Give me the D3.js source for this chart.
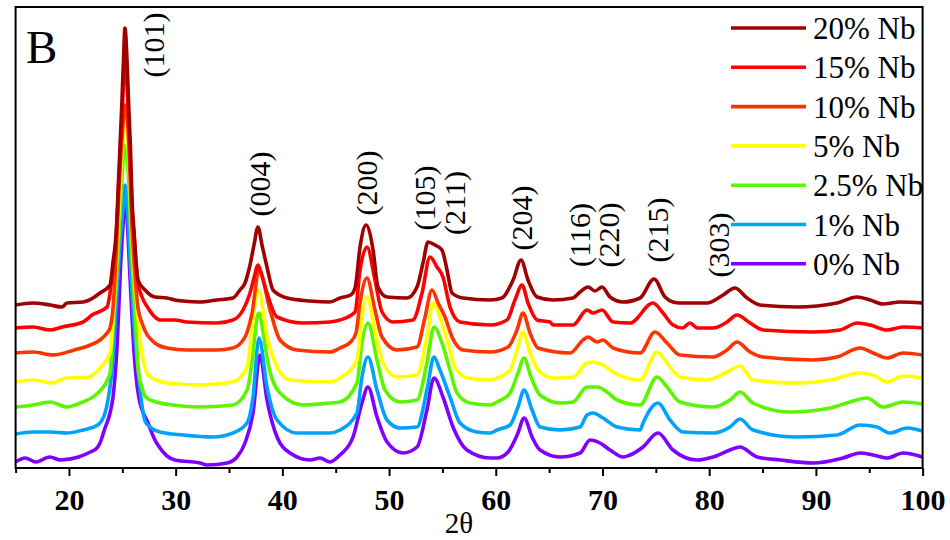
<!DOCTYPE html>
<html>
<head>
<meta charset="utf-8">
<script src="https://cdn.jsdelivr.net/npm/d3@7"></script>
<style>
  body { margin: 0; background: #fff; }
  svg { display: block; }
</style>
</head>
<body>
<svg id="chart" width="950" height="540"></svg>
<script>
// sample names and colours, bottom curve first
const sampleNames = ['0% Nb', '1% Nb', '2.5% Nb', '5% Nb', '10% Nb', '15% Nb', '20% Nb'];
const sampleColors = ['#7f00ff', '#00a2ff', '#5cf500', '#ffff00', '#ff3300', '#ff0000', '#a00000'];

// diffraction patterns [2theta, intensity a.u. incl. stacking offset]
const nb0 = [[15.0,6],[15.9,10],[16.9,6],[18.2,11],[19.2,8],[20.9,11],[22.0,16],[22.63,20],[22.91,25],[23.38,40],[23.85,55],[24.13,71],[24.55,130],[24.83,200],[25.11,250],[25.25,270],[25.44,250],[25.77,180],[26.14,110],[26.56,70],[27.41,45],[28.06,28],[28.53,20],[29.19,12],[29.94,8],[32.28,5],[32.94,3],[34.81,5],[35.75,11],[36.5,25],[37.25,55],[37.9,113],[38.56,68],[39.5,31],[40.72,15],[42.59,8],[43.53,10],[44.46,6],[45.4,13],[46.62,31],[47.46,65],[48.02,81],[48.87,51],[49.81,26],[51.31,15],[52.62,21],[53.55,58],[54.21,90],[55.05,71],[55.99,41],[57.3,18],[59.46,10],[60.12,10],[61.15,16],[62.08,35],[62.65,50],[63.4,31],[64.15,18],[66.02,11],[67.9,15],[68.83,28],[69.77,25],[70.71,18],[71.93,11],[72.58,13],[73.8,21],[75.2,35],[76.61,18],[78.86,8],[80.36,11],[81.95,18],[82.89,21],[84.49,11],[86.64,8],[89.73,5],[92.54,10],[94.14,15],[95.36,13],[96.67,10],[98.17,15],[100,11]];
const nb1 = [[15.0,34],[16.63,36],[18.22,36],[19.82,35],[21.32,38],[22.7,43],[23.38,55],[23.66,68],[24.13,110],[24.41,160],[24.83,230],[25.11,265],[25.25,283],[25.44,265],[25.77,200],[26.05,150],[26.56,90],[26.85,62],[27.13,47],[27.6,41],[28.53,36],[30.69,33],[33.5,31],[35.37,35],[36.69,45],[37.25,71],[37.81,130],[38.56,81],[39.5,48],[41.37,35],[44.46,35],[45.4,38],[46.99,55],[47.46,91],[48.02,111],[48.87,78],[49.81,48],[51.02,40],[52.62,41],[53.55,78],[54.21,111],[54.77,98],[55.71,71],[56.65,45],[58.24,36],[59.46,35],[60.12,38],[61.34,43],[62.08,61],[62.65,78],[63.4,58],[64.15,41],[66.02,38],[67.9,41],[68.55,53],[69.11,55],[70.05,50],[71.36,41],[73.52,38],[73.8,45],[75.2,65],[76.33,48],[77.55,36],[80.36,35],[81.95,41],[82.89,49],[84.11,38],[88.24,31],[91.98,33],[94.14,43],[95.73,41],[96.95,35],[98.54,40],[100,37]];
const nb25 = [[15.0,61],[16.63,63],[18.22,66],[19.8,61],[21.3,66],[22.5,73],[23.6,88],[23.85,95],[24.13,138],[24.55,205],[24.97,290],[25.25,323],[25.58,290],[25.91,205],[26.05,180],[26.28,138],[26.47,100],[26.85,80],[27.13,72],[27.6,68],[29.75,63],[32.28,61],[35.37,63],[36.69,78],[37.2,110],[37.62,150],[37.81,155],[38.2,135],[38.65,105],[39.78,75],[41.93,63],[44.46,65],[45.4,66],[46.99,85],[47.46,125],[48.02,145],[48.87,108],[49.62,78],[51.02,66],[52.62,68],[53.55,105],[54.21,141],[54.96,125],[55.71,98],[56.37,75],[57.59,65],[59.46,63],[60.12,66],[61.34,75],[62.08,95],[62.65,110],[63.3,91],[64.15,73],[66.02,65],[67.24,66],[68.55,81],[69.49,81],[70.43,76],[71.36,68],[73.52,63],[75.11,91],[76.05,81],[77.26,66],[80.36,61],[81.95,68],[82.89,76],[84.11,65],[87.58,56],[91.33,60],[93.2,66],[94.79,70],[96.29,61],[98.17,66],[100,64]];
const nb5 = [[15.0,86],[16.63,88],[18.4,85],[19.8,90],[21.9,91],[22.9,100],[23.85,115],[24.13,150],[24.41,200],[24.69,260],[24.97,315],[25.25,350],[25.58,315],[25.91,230],[26.14,190],[26.47,150],[26.85,115],[27.41,93],[28.2,88],[29.19,85],[32.28,83],[35.37,86],[36.69,101],[37.25,148],[37.72,178],[38.65,128],[39.5,101],[40.72,88],[44.46,86],[45.4,90],[46.99,108],[47.46,151],[47.93,171],[48.68,138],[49.43,105],[50.74,91],[52.62,93],[53.55,131],[54.12,165],[54.77,151],[55.52,125],[56.18,101],[57.3,90],[59.46,88],[60.12,90],[61.34,98],[61.99,118],[62.55,136],[63.21,115],[63.96,98],[65.37,90],[67.24,91],[68.55,105],[69.11,106],[70.05,103],[70.99,96],[73.52,88],[75.11,116],[76.05,105],[77.26,91],[79.8,88],[81.67,96],[82.89,102],[84.11,88],[88.24,85],[91.33,88],[94.14,95],[95.36,93],[96.67,86],[98.17,92],[100,90]];
const nb10 = [[15.0,115],[16.63,116],[18.5,113],[20.5,118],[22.0,123],[22.91,128],[23.57,135],[23.85,140],[24.13,160],[24.41,210],[24.69,280],[24.97,330],[25.25,363],[25.58,330],[25.91,240],[26.14,200],[26.47,160],[26.85,145],[28.06,125],[29.19,120],[31.06,118],[33.87,118],[35.37,120],[36.5,131],[37.16,155],[37.81,198],[38.84,158],[39.78,128],[41.37,118],[44.46,116],[45.4,120],[46.4,126],[46.9,135],[47.28,165],[47.93,190],[48.68,158],[49.34,131],[50.74,118],[52.62,121],[53.37,151],[54.02,178],[54.59,165],[55.24,151],[55.9,131],[56.93,118],[59.46,116],[61.15,121],[61.99,138],[62.55,155],[63.21,135],[63.96,120],[66.96,115],[68.18,128],[68.65,131],[69.49,126],[70.05,128],[70.99,120],[73.52,115],[74.92,136],[76.05,125],[77.26,113],[80.36,111],[81.67,118],[82.61,126],[83.83,116],[85.05,111],[89.73,108],[91.98,111],[94.14,120],[95.36,115],[96.67,110],[98.17,115],[100,113]];
const nb15 = [[15.0,140],[16.63,141],[18.22,138],[19.35,141],[21.32,146],[22.16,153],[23.57,161],[23.85,175],[24.13,200],[24.41,228],[24.69,290],[24.97,350],[25.11,385],[25.25,406],[25.44,385],[25.58,350],[25.77,300],[25.91,260],[26.14,228],[26.47,185],[26.85,171],[27.41,160],[28.06,151],[28.53,148],[29.94,148],[31.06,146],[33.87,145],[35.37,148],[36.31,158],[36.97,175],[37.34,190],[37.72,203],[38.09,192],[38.56,175],[39.5,151],[41.93,145],[44.46,146],[45.4,148],[46.81,156],[47.28,198],[47.93,221],[48.68,188],[49.34,156],[50.37,146],[52.24,148],[53.09,175],[53.84,211],[54.49,201],[55.05,191],[55.71,161],[56.65,146],[59.46,143],[61.05,148],[61.8,168],[62.46,183],[63.02,165],[63.87,148],[65.08,146],[65.37,143],[67.24,143],[68.55,158],[69.11,155],[69.96,158],[70.99,146],[72.58,145],[74.74,165],[75.67,155],[76.61,143],[77.5,140],[78.2,145],[78.9,140],[80.36,140],[81.67,146],[82.61,153],[83.83,145],[85.05,138],[89.73,136],[92.26,138],[93.86,145],[95.08,143],[96.67,138],[98.17,141],[100,140]];
const nb20 = [[15.0,163],[16.63,165],[18.22,163],[19.35,161],[19.82,165],[21.32,166],[22.25,170],[22.91,175],[23.85,183],[24.13,206],[24.41,233],[24.69,298],[24.97,368],[25.11,408],[25.25,440],[25.44,408],[25.58,368],[25.77,318],[25.91,268],[26.1,236],[26.28,206],[26.47,188],[27.13,178],[28.06,171],[29.19,170],[29.94,168],[30.69,167],[32.28,166],[33.87,168],[35.37,170],[36.03,178],[36.5,185],[36.97,203],[37.34,223],[37.72,241],[38.09,223],[38.56,201],[39.12,178],[40.44,170],[42.59,167],[44.46,166],[45.4,170],[46.4,173],[46.81,180],[47.28,221],[47.84,243],[48.5,218],[48.96,181],[49.81,171],[51.68,170],[52.62,181],[53.18,205],[53.65,226],[54.3,223],[54.96,218],[55.43,198],[55.9,175],[56.93,170],[59.46,168],[60.58,170],[61.62,188],[62.37,208],[63.02,188],[63.87,171],[65.37,168],[67.24,170],[67.9,176],[68.65,181],[69.3,177],[69.96,181],[70.71,171],[71.93,166],[73.52,170],[74.83,189],[75.86,171],[76.61,166],[77.26,165],[79.8,165],[81.3,173],[82.42,180],[83.55,170],[84.77,163],[88.24,161],[91.98,165],[93.86,171],[95.08,168],[96.29,164],[97.88,166],[100,165]];
const patterns = [nb0, nb1, nb25, nb5, nb10, nb15, nb20];

// reflections and where their labels sit
const hklNames = ['(101)', '(004)', '(200)', '(105)', '(211)', '(204)', '(116)', '(220)', '(215)', '(303)'];
const hklX = [27.88, 37.9, 47.93, 53.28, 56.09, 62.37, 67.8, 70.61, 75.2, 80.83];
const hklY = [423, 284, 285, 270, 265, 250, 233, 233, 238, 223];

const majorTicks = [20, 30, 40, 50, 60, 70, 80, 90, 100];
const minorTicks = [15, 25, 35, 45, 55, 65, 75, 85, 95];

const serif = '"Liberation Serif", "Times New Roman", "DejaVu Serif", serif';

var padding = {top: 7, right: 27.4, bottom: 72, left: 15.6};
var width = 950, height = 540;

var svg = d3.select('#chart');

var xScale = d3.scaleLinear()
    .domain([15, 100])
    .range([padding.left, width - padding.right]);

var yScale = d3.scaleLinear()
    .domain([0, 461])
    .range([height - padding.bottom, padding.top]);

var line = d3.line()
    .x(d => xScale(d[0]))
    .y(d => yScale(d[1]))
    .curve(d3.curveMonotoneX);

// curves, 0% first so 20% ends on top
svg.append('g')
    .selectAll('path')
    .data(patterns)
    .enter()
    .append('path')
    .attr('d', d => line(d))
    .attr('fill', 'none')
    .attr('stroke', (d, i) => sampleColors[i])
    .attr('stroke-width', 3.6)
    .attr('stroke-linejoin', 'round');

// x axis: labelled majors, short minors
var axisY = height - padding.bottom;
var xAxis = d3.axisBottom(xScale)
    .tickValues(majorTicks)
    .tickSize(8)
    .tickPadding(13)
    .tickFormat(d3.format('d'));
var gx = svg.append('g')
    .attr('transform', `translate(0,${axisY})`)
    .call(xAxis)
    .attr('font-family', serif)
    .attr('font-size', 30);
gx.select('.domain').remove();
gx.selectAll('line').attr('stroke', '#000').attr('stroke-width', 2);
gx.selectAll('text')
    .attr('fill', '#000')
    .attr('font-family', serif)
    .attr('font-weight', 'bold');

var gm = svg.append('g')
    .attr('transform', `translate(0,${axisY})`)
    .call(d3.axisBottom(xScale).tickValues(minorTicks).tickSize(5).tickFormat(''));
gm.select('.domain').remove();
gm.selectAll('line').attr('stroke', '#000').attr('stroke-width', 2);

// frame
svg.append('rect')
    .attr('x', padding.left)
    .attr('y', padding.top)
    .attr('width', width - padding.right - padding.left)
    .attr('height', axisY - padding.top)
    .attr('fill', 'none')
    .attr('stroke', '#000')
    .attr('stroke-width', 2);

// axis title
svg.append('text')
    .attr('x', 459)
    .attr('y', 533)
    .attr('text-anchor', 'middle')
    .attr('font-family', serif)
    .attr('font-size', 29)
    .text('2θ');

// panel letter
svg.append('text')
    .attr('x', 26)
    .attr('y', 63)
    .attr('font-family', serif)
    .attr('font-size', 47)
    .text('B');

// hkl labels, read bottom to top
svg.append('g')
    .selectAll('text')
    .data(hklNames)
    .enter()
    .append('text')
    .attr('transform', (d, i) => `translate(${xScale(hklX[i])},${yScale(hklY[i])}) rotate(-90)`)
    .attr('text-anchor', 'middle')
    .attr('dominant-baseline', 'central')
    .attr('font-family', serif)
    .attr('font-size', 30)
    .text(d => d);

// legend, 20% at the top
var legend = svg.append('g');
var order = d3.range(sampleNames.length).reverse();
order.forEach((k, i) => {
    var ly = 28 + i * 39.3;
    legend.append('line')
        .attr('x1', 731).attr('x2', 806)
        .attr('y1', ly).attr('y2', ly)
        .attr('stroke', sampleColors[k])
        .attr('stroke-width', 3.6);
    legend.append('text')
        .attr('x', 813)
        .attr('y', ly + 11)
        .attr('font-family', serif)
        .attr('font-size', 31)
        .text(sampleNames[k]);
});
</script>
</body>
</html>
